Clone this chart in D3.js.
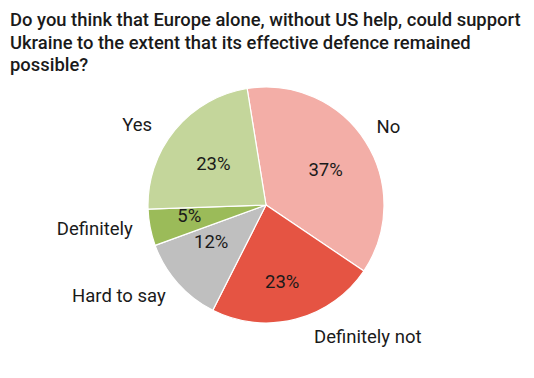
<!DOCTYPE html>
<html><head><meta charset="utf-8">
<script src="https://cdn.jsdelivr.net/npm/d3@7"></script>
<style>body{margin:0;background:#fff}svg{display:block}text{font-family:Roboto,"Noto Sans",sans-serif}</style>
</head><body>
<svg id="c" width="534" height="378"></svg>
<script>
const titleLines = ["Do you think that Europe alone, without US help, could support","Ukraine to the extent that its effective defence remained","possible?"];
const categories = ["No","Definitely not","Hard to say","Definitely","Yes"];
const values = [37,23,12,5,23];
const colors = ["#f3aea7","#e55443","#bfbfbf","#9bbb59","#c4d69b"];
// label layout nudges (px) from radial positions
const outerNudge = [[-4,3],[64,-13],[-35,-9],[-24,-5],[-13,15]];
const innerNudge = [[-1,4],[-2,7],[-1,-11],[-6,-3],[3,5]];

const svg = d3.select("#c");
const cx = 266, cy = 205, R = 118;
const tg = svg.append("g");
titleLines.forEach((t,i)=>tg.append("text").attr("x",10).attr("y",26+i*22.5)
  .attr("font-size",18.4).attr("font-weight",500).attr("fill","#1a1a1a").text(t));

const start = -9.2*Math.PI/180;
const pie = d3.pie().sort(null).value(d=>d.v).startAngle(start).endAngle(start+2*Math.PI);
const data = categories.map((c,i)=>({c,v:values[i],i}));
const arcs = pie(data);
const arc = d3.arc().innerRadius(0).outerRadius(R);
const g = svg.append("g").attr("transform",`translate(${cx},${cy})`);
g.selectAll("path").data(arcs).join("path").attr("d",arc)
  .attr("fill",d=>colors[d.data.i]).attr("stroke","#fff").attr("stroke-width",1.2);

const pos = (d,r)=>{const a=(d.startAngle+d.endAngle)/2;return [Math.sin(a)*r,-Math.cos(a)*r];};
g.selectAll("text.pct").data(arcs).join("text").attr("class","pct")
  .attr("x",d=>pos(d,72)[0]+innerNudge[d.data.i][0])
  .attr("y",d=>pos(d,72)[1]+innerNudge[d.data.i][1])
  .attr("text-anchor","middle").attr("dominant-baseline","central")
  .attr("font-size",18.5).attr("fill","#1a1a1a").text(d=>d.data.v+"%");
g.selectAll("text.lab").data(arcs).join("text").attr("class","lab")
  .attr("x",d=>pos(d,150)[0]+outerNudge[d.data.i][0])
  .attr("y",d=>pos(d,150)[1]+outerNudge[d.data.i][1])
  .attr("text-anchor","middle").attr("dominant-baseline","central")
  .attr("font-size",18.5).attr("fill","#1a1a1a").text(d=>d.data.c);
</script>
</body></html>
